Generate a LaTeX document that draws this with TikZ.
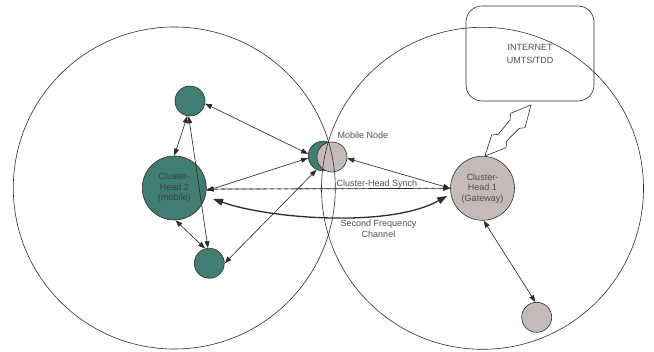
\documentclass[tikz,border=0pt]{standalone}
\usepackage{fontspec}
\setmainfont{Liberation Sans}
\usetikzlibrary{arrows.meta,calc}
\definecolor{tealc}{RGB}{64,126,116}
\definecolor{greyc}{RGB}{196,187,185}
\definecolor{linec}{RGB}{45,45,45}
\definecolor{textc}{RGB}{78,78,78}
\definecolor{tealtext}{RGB}{58,62,62}
\begin{document}
\begin{tikzpicture}[x=1pt,y=-1pt,
  every node/.style={font=\fontsize{9}{10.5}\selectfont, text=textc},
  tealnode/.style={circle, draw=linec, line width=0.6pt, fill=tealc, inner sep=0pt, align=center},
  greynode/.style={circle, draw=linec, line width=0.6pt, fill=greyc, inner sep=0pt, align=center},
  link/.style={draw=linec, line width=0.65pt, {Triangle[length=7pt,width=5pt]}-{Triangle[length=7pt,width=5pt]}},
  thicklink/.style={draw=linec, line width=1.3pt, {Triangle[length=10pt,width=7pt]}-{Triangle[length=10pt,width=7pt]}},
  cell/.style={draw=linec, line width=0.6pt},
  boxstyle/.style={draw=linec, line width=0.6pt, rounded corners=16pt, minimum width=128pt, minimum height=95pt, align=center, font=\fontsize{9}{13}\selectfont}
]
\useasboundingbox (0,0) rectangle (654,352);

% nodes
\node[tealnode, minimum size=30pt] (t1) at (190,101) {};
\node[tealnode, minimum size=64pt, text=tealtext] (ch2) at (174.3,188) {Cluster-\\Head 2\\(mobile)};
\node[tealnode, minimum size=30pt] (b1) at (209.3,263.3) {};
\node[tealnode, minimum size=29.6pt] (m1) at (323,156) {};
\node[greynode, minimum size=30pt] (m2) at (332,157) {};
\node[greynode, minimum size=64pt] (ch1) at (482.5,188.3) {Cluster-\\Head 1\\(Gateway)};
\node[greynode, minimum size=30pt] (bg) at (536.7,317.3) {};
\node[boxstyle] (net) at (530,53.5) {INTERNET\\UMTS/TDD};

% labels
\node (mlabel) at (363,135.5) {Mobile Node};
\node (synchlabel) at (377,184) {Cluster-Head Synch};
\node[align=center, font=\fontsize{9}{11}\selectfont] (freqlabel) at (378.5,228.5) {Second Frequency\\Channel};

% cells
\draw[cell] (174.3,188) circle[radius=161pt];
\draw[cell] (482.5,188.3) circle[radius=161pt];

% lightning link
\draw[cell, fill=white, line join=miter] (485,156) -- (491.7,135) -- (498.3,134.3) -- (510,120) -- (510.7,113.3) -- (531,105)
  -- (525,127.7) -- (519.3,128.3) -- (506.7,141) -- (506,147.7) -- cycle;

% links
\draw[link] (ch2.90) -- (t1.-100);
\draw[link] (t1.-95) -- (b1.95);
\draw[link] (ch2.-88) -- (b1.106);
\draw[link] (t1.-10) -- (m1.172);
\draw[link] (ch2.-5) -- (m1.188);
\draw[link] (b1.0) -- (m1.-115);
\draw[link] (m2.-5) -- (ch1.180);
\draw[link] (ch1.-88) -- (bg.95);

% cluster-head synch
\draw[draw=linec!45, line width=1.4pt, dash pattern=on 3pt off 4pt, shorten <=8pt, shorten >=8pt] (ch2.-2) -- (ch1.west);
\draw[link] (ch2.-2) -- (ch1.west);

% second frequency channel
\draw[thicklink, shorten <=8pt, shorten >=4pt] (ch2.-15) .. controls (270,219) and (390,228) .. (ch1.190);
\end{tikzpicture}
\end{document}
